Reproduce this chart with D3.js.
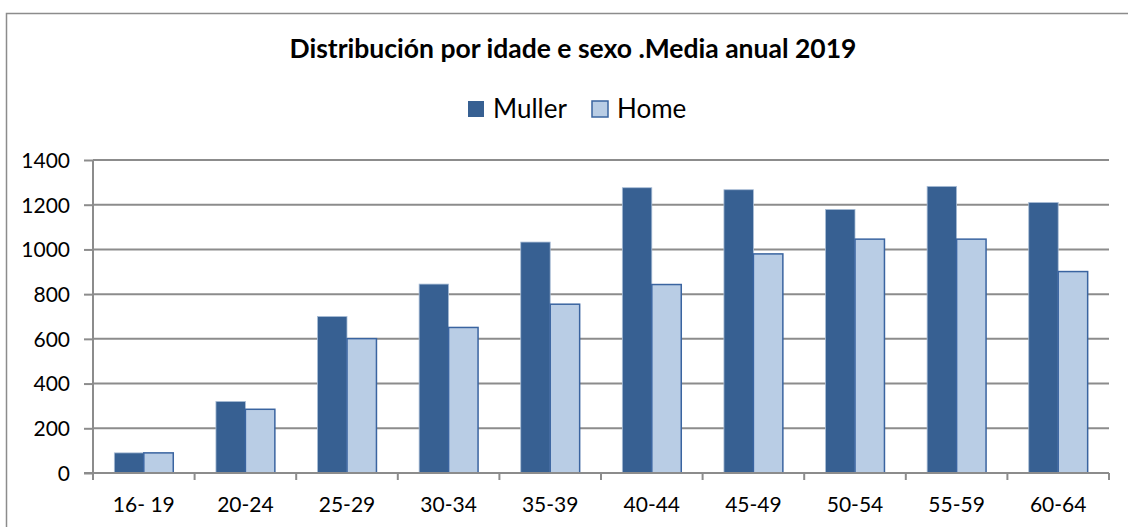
<!DOCTYPE html>
<html>
<head>
<meta charset="utf-8">
<script src="https://cdn.jsdelivr.net/npm/d3@7"></script>
<style>
  body { margin: 0; background: #fff; }
  svg text { font-family: Lato, "Open Sans", sans-serif; fill: #000; }
</style>
</head>
<body>
<div id="content"></div>
<script>
var categories = ["16- 19", "20-24", "25-29", "30-34", "35-39", "40-44", "45-49", "50-54", "55-59", "60-64"];
var muller = [90, 320, 700, 845, 1033, 1276, 1267, 1179, 1282, 1210];
var home = [90, 285, 601, 651, 755, 843, 980, 1046, 1046, 901];
var yTicks = [0, 200, 400, 600, 800, 1000, 1200, 1400];
var seriesNames = ["Muller", "Home"];

var W = 1128, H = 527;
var margin = { top: 160, right: 19, bottom: 54, left: 93 };
var width = W - margin.left - margin.right;
var height = H - margin.top - margin.bottom;

var svg = d3.select("#content").append("svg")
    .attr("width", W)
    .attr("height", H);

// outer chart border (cut off on right and bottom)
svg.append("path")
    .attr("d", "M6.5," + H + "V13.5H" + W)
    .attr("fill", "none")
    .attr("stroke", "#8c8c8c")
    .attr("stroke-width", 1.5);

svg.append("text")
    .attr("x", 573)
    .attr("y", 58)
    .attr("text-anchor", "middle")
    .style("font-size", "26.5px")
    .style("font-weight", "bold")
    .text("Distribución por idade e sexo .Media anual 2019");

var x = d3.scaleBand().domain(categories).range([0, width]).paddingInner(0.42).paddingOuter(0.21);
var x1 = d3.scaleBand().domain(seriesNames).range([0, x.bandwidth()]);
var y = d3.scaleLinear().domain([0, 1400]).range([height, 0]);

var g = svg.append("g")
    .attr("transform", "translate(" + margin.left + "," + margin.top + ")");

// gridlines + y axis
var yAxis = d3.axisLeft(y).tickValues(yTicks).tickFormat(d3.format("d")).tickSize(9).tickPadding(14);
var yg = g.append("g").call(yAxis);
yg.select(".domain").attr("stroke", "#8c8c8c").attr("stroke-width", 2).attr("d", "M0," + height + "V0");
yg.selectAll(".tick line").attr("stroke", "#8c8c8c").attr("stroke-width", 2);
yg.selectAll(".tick text").style("font-size", "21px").attr("dy", "0.35em");

g.append("g").selectAll("line")
    .data(yTicks.filter(function (d) { return d > 0; }))
    .enter().append("line")
    .attr("x1", 0).attr("x2", width)
    .attr("y1", function (d) { return y(d); })
    .attr("y2", function (d) { return y(d); })
    .attr("stroke", "#8c8c8c")
    .attr("stroke-width", 2);

// bars
var groups = g.append("g").selectAll("g")
    .data(categories)
    .enter().append("g")
    .attr("transform", function (d) { return "translate(" + x(d) + ",0)"; });

groups.append("rect")
    .attr("x", x1("Muller"))
    .attr("width", x1.bandwidth())
    .attr("y", function (d, i) { return y(muller[i]); })
    .attr("height", function (d, i) { return height - y(muller[i]); })
    .attr("fill", "#376092")
    .attr("stroke", "#a9bdd6")
    .attr("stroke-width", 0.8);

groups.append("rect")
    .attr("x", x1("Home"))
    .attr("width", x1.bandwidth())
    .attr("y", function (d, i) { return y(home[i]); })
    .attr("height", function (d, i) { return height - y(home[i]); })
    .attr("fill", "#b9cde5")
    .attr("stroke", "#3a64a0")
    .attr("stroke-width", 1.5);

// x axis
var step = width / categories.length;
var xg = g.append("g").attr("transform", "translate(0," + height + ")");
xg.append("line").attr("x1", -9).attr("x2", width).attr("stroke", "#8c8c8c").attr("stroke-width", 2);
xg.selectAll(".xt")
    .data(d3.range(categories.length + 1))
    .enter().append("line")
    .attr("x1", function (d) { return d * step; })
    .attr("x2", function (d) { return d * step; })
    .attr("y1", 0).attr("y2", 7)
    .attr("stroke", "#8c8c8c").attr("stroke-width", 2);
xg.selectAll(".xl")
    .data(categories)
    .enter().append("text")
    .attr("x", function (d) { return x(d) + x.bandwidth() / 2; })
    .attr("y", 39)
    .attr("text-anchor", "middle")
    .style("font-size", "21px")
    .text(function (d) { return d; });

// legend
var legend = svg.append("g");
var legendX = [468, 592];
var legendFill = ["#376092", "#b9cde5"];
seriesNames.forEach(function (name, i) {
    legend.append("rect")
        .attr("x", legendX[i]).attr("y", 101)
        .attr("width", 16).attr("height", 16)
        .attr("fill", legendFill[i])
        .attr("stroke", i === 1 ? "#3a64a0" : "none")
        .attr("stroke-width", 1.5);
    legend.append("text")
        .attr("x", legendX[i] + 25).attr("y", 118)
        .style("font-size", "26px")
        .text(name);
});
</script>
</body>
</html>
